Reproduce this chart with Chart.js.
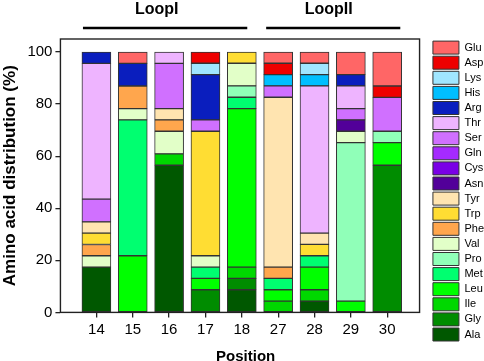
<!DOCTYPE html>
<html>
<head>
<meta charset="utf-8">
<script src="https://cdn.jsdelivr.net/npm/chart.js@4/dist/chart.umd.min.js"></script>
<style>
  html, body { margin: 0; padding: 0; background: #fff; }
  #wrap { width: 484px; height: 361px; }
</style>
</head>
<body>
<div id="wrap"><canvas id="chart" width="484" height="361"></canvas></div>
<script>
var POSITIONS = ["14", "15", "16", "17", "18", "27", "28", "29", "30"];

// % of sequences per residue at each position (bottom of stack first)
var Ala = [17.39, 0, 56.52, 0, 8.7, 0, 4.35, 0, 0];
var Gly = [0, 0, 0, 8.7, 4.35, 0, 0, 0, 56.52];
var Ile = [0, 0, 4.35, 0, 4.35, 4.35, 4.35, 0, 0];
var Leu = [0, 21.74, 0, 4.35, 60.87, 4.35, 8.7, 4.35, 8.7];
var Met = [0, 52.17, 0, 4.35, 4.35, 4.35, 4.35, 0, 0];
var Pro = [0, 0, 0, 0, 4.35, 0, 0, 60.87, 4.35];
var Val = [4.35, 4.35, 8.7, 4.35, 8.7, 0, 0, 4.35, 0];
var Phe = [4.35, 8.7, 4.35, 0, 0, 4.35, 0, 0, 0];
var Trp = [4.35, 0, 0, 47.83, 4.35, 0, 4.35, 0, 0];
var Tyr = [4.35, 0, 4.35, 0, 0, 65.22, 4.35, 0, 0];
var Asn = [0, 0, 0, 0, 0, 0, 0, 4.35, 0];
var Cys = [0, 0, 0, 0, 0, 0, 0, 0, 0];
var Gln = [0, 0, 0, 0, 0, 0, 0, 0, 0];
var Ser = [8.7, 0, 17.39, 4.35, 0, 4.35, 0, 4.35, 13.04];
var Thr = [52.17, 0, 4.35, 0, 0, 0, 56.52, 8.7, 0];
var Arg = [4.35, 8.7, 0, 17.39, 0, 0, 0, 4.35, 0];
var His = [0, 0, 0, 0, 0, 4.35, 4.35, 0, 0];
var Lys = [0, 0, 0, 4.35, 0, 0, 4.35, 0, 0];
var Asp = [0, 0, 0, 4.35, 0, 4.35, 0, 0, 4.35];
var Glu = [0, 4.35, 0, 0, 0, 4.35, 4.35, 8.7, 13.04];

var RESIDUES = ["Ala", "Gly", "Ile", "Leu", "Met", "Pro", "Val", "Phe", "Trp", "Tyr",
                "Asn", "Cys", "Gln", "Ser", "Thr", "Arg", "His", "Lys", "Asp", "Glu"];
var SERIES = [Ala, Gly, Ile, Leu, Met, Pro, Val, Phe, Trp, Tyr,
              Asn, Cys, Gln, Ser, Thr, Arg, His, Lys, Asp, Glu];
var COLORS = ["#005800", "#008c00", "#00d800", "#00ff00", "#00ff70", "#90ffb8", "#e2ffc8",
              "#ffa64d", "#ffdd33", "#ffe4b0", "#520099", "#7a00e6", "#a52aff", "#d070ff",
              "#eeb4ff", "#0a1ebe", "#00bfff", "#a0e6ff", "#ee0000", "#ff6666"];

var FONT = "'Liberation Sans', Arial, sans-serif";

var datasets = RESIDUES.map(function(name, k) {
  return {
    label: name,
    backgroundColor: COLORS[k],
    borderColor: "#333",
    borderWidth: 1,
    borderSkipped: false,
    barThickness: 29,
    data: SERIES[k].map(function(v, i) { return {x: i, y: v ? v : null}; })
  };
});

// frame box and the LoopI / LoopII brackets above the bars
var FRAME_RIGHT = 8.89;
var LOOPS = [
  {text: "LoopI", from: -0.37, to: 4.15, mid: 1.66},
  {text: "LoopII", from: 4.67, to: 8.36, mid: 6.39}
];

var decor = {
  id: "decor",
  afterDraw: function(chart) {
    var ctx = chart.ctx;
    var area = chart.chartArea;
    var xs = chart.scales.x;
    var right = xs.getPixelForValue(FRAME_RIGHT);
    ctx.save();
    ctx.strokeStyle = "#222";
    ctx.lineWidth = 1.4;
    ctx.strokeRect(area.left, area.top, right - area.left, area.bottom - area.top);

    ctx.fillStyle = "#000";
    ctx.font = "bold 16px " + FONT;
    ctx.textAlign = "center";
    ctx.textBaseline = "alphabetic";
    ctx.lineWidth = 2.6;
    ctx.strokeStyle = "#000";
    LOOPS.forEach(function(l) {
      ctx.fillText(l.text, xs.getPixelForValue(l.mid), 14);
      ctx.beginPath();
      ctx.moveTo(xs.getPixelForValue(l.from), 28);
      ctx.lineTo(xs.getPixelForValue(l.to), 28);
      ctx.stroke();
    });
    ctx.restore();
  }
};

var ctx = document.getElementById("chart").getContext("2d");
var chart = new Chart(ctx, {
  type: "bar",
  data: { datasets: datasets },
  options: {
    responsive: false,
    animation: false,
    layout: { padding: { top: 39, left: 0, right: -10, bottom: 0 } },
    plugins: {
      tooltip: { enabled: false },
      legend: {
        position: "right",
        align: "start",
        reverse: true,
        labels: {
          boxWidth: 26,
          boxHeight: 13,
          padding: 2.1,
          color: "#000",
          font: { family: FONT, size: 11 }
        }
      }
    },
    scales: {
      x: {
        type: "linear",
        stacked: true,
        offset: false,
        min: -0.99,
        max: 9.2,
        afterBuildTicks: function(axis) {
          axis.ticks = POSITIONS.map(function(p, i) { return {value: i}; });
        },
        ticks: {
          color: "#000",
          padding: 3,
          maxRotation: 0,
          font: { family: FONT, size: 15 },
          callback: function(v) { return POSITIONS[v]; }
        },
        grid: { offset: false, drawOnChartArea: false, tickLength: 5, color: "#222", lineWidth: 1.3 },
        border: { display: false },
        title: {
          display: true,
          text: "Position",
          color: "#000",
          font: { family: FONT, size: 15, weight: "bold", lineHeight: 1 },
          padding: { top: 7.6, bottom: -3 }
        }
      },
      y: {
        stacked: true,
        min: 0,
        max: 105,
        ticks: {
          stepSize: 20,
          includeBounds: false,
          color: "#000",
          padding: 3,
          font: { family: FONT, size: 15 }
        },
        grid: { drawOnChartArea: false, tickLength: 5, color: "#222", lineWidth: 1.3 },
        border: { display: false },
        title: {
          display: true,
          text: "Amino acid distribution (%)",
          color: "#000",
          font: { family: FONT, size: 17, weight: "bold" },
          padding: { top: 0, bottom: 4 }
        }
      }
    }
  },
  plugins: [decor]
});
</script>
</body>
</html>
